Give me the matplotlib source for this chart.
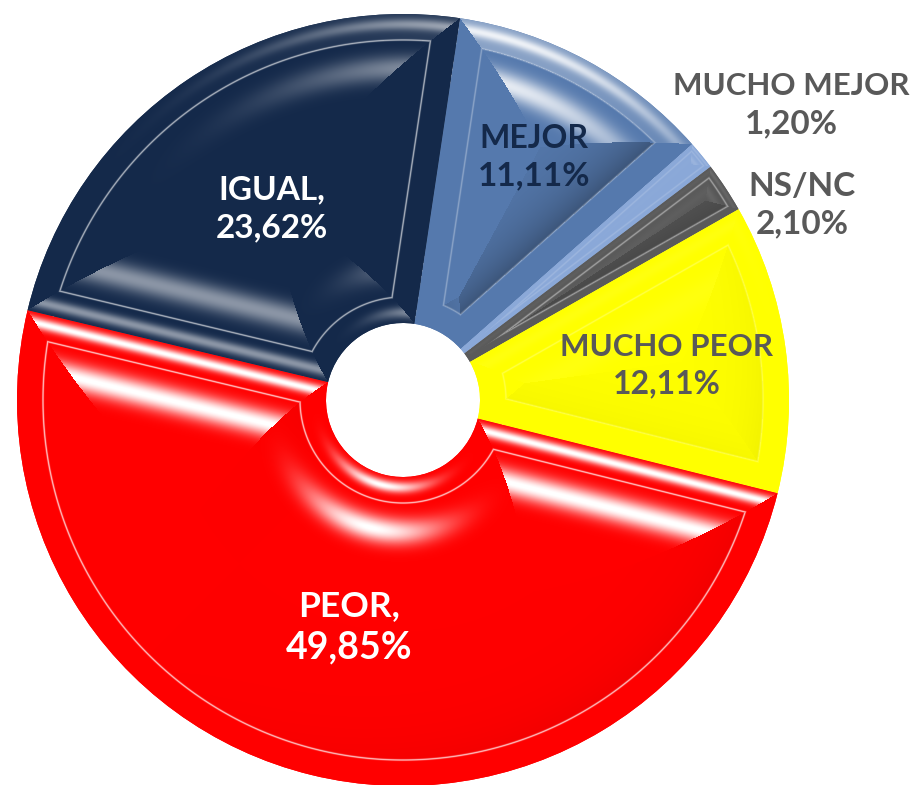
import numpy as np
import matplotlib
matplotlib.use("Agg")
import matplotlib.pyplot as plt

labels = ["MEJOR", "MUCHO MEJOR", "NS/NC", "MUCHO PEOR", "PEOR,", "IGUAL,"]
values = [11.11, 1.20, 2.10, 12.11, 49.85, 23.62]
value_text = ["11,11%", "1,20%", "2,10%", "12,11%", "49,85%", "23,62%"]

colors = ["#5579AD", "#8AA8D8", "#5A5A5A", "#FFFF00", "#FF0000", "#14294A"]
text_colors = ["#14294A", "#595959", "#595959", "#595959", "#FFFFFF", "#FFFFFF"]
text_xy = [(534, 157), (791, 105), (802, 205), (667, 365), (349, 627), (272, 209)]
label_size = [23, 22.5, 24, 22.5, 25.5, 24]
value_size = [24, 24, 24, 23, 27, 24]
insets = [26, 5, 8, 26, 26, 26]
glare = [0.85, 0.5, 0.45, 0.4, 1.0, 0.55]
under_glare = [0, 0, 0, 0, 0, 0.5]
dark_amt = [0.3, 0.0, 0.2, 0.06, 0.05, 0.0]
ring_light = [0.3, 0.0, 0.0, 0.0, 0.0, 0.1]
line_amt = [0.3, 0.15, 0.4, 0.25, 0.7, 0.6]

W, H = 916, 785
cx, cy, R, hole = 403, 400, 386, 77
cy_up = H - cy

plt.rcParams["font.family"] = ["Lato", "DejaVu Sans"]
fig = plt.figure(figsize=(W / 100, H / 100), dpi=100)
ax = fig.add_axes([0, 0, 1, 1])

wedges, _ = ax.pie(values, startangle=81.5, counterclock=False, colors=colors,
                   radius=R, center=(cx, cy_up),
                   wedgeprops=dict(width=R - hole, linewidth=0))

ax.set_xlim(0, W)
ax.set_ylim(0, H)
ax.set_aspect("equal")
ax.axis("off")

yy, xx = np.mgrid[0:H, 0:W] + 0.5
dx = xx - cx
dy = yy - cy_up
r = np.hypot(dx, dy)
t = np.degrees(np.arctan2(dy, dx))
cos_t = dx / np.maximum(r, 1)
sin_t = dy / np.maximum(r, 1)


def edge_dist(angle):
    return r * np.sin(np.radians(np.clip(angle, 0, 90)))


def shade(wedge, i):
    # fake bevel: distance to the nearest edge and the way that edge faces
    inset = insets[i]
    t1, t2 = wedge.theta1, wedge.theta2
    a1 = (t - t1) % 360
    a2 = (t2 - t) % 360
    dist = np.stack([R - r, r - hole, edge_dist(a1), edge_dist(a2)])
    s1, c1 = np.sin(np.radians(t1)), np.cos(np.radians(t1))
    s2, c2 = np.sin(np.radians(t2)), np.cos(np.radians(t2))
    nx = np.stack([cos_t, -cos_t, np.full_like(r, s1), np.full_like(r, -s2)])
    ny = np.stack([sin_t, -sin_t, np.full_like(r, -c1), np.full_like(r, c2)])
    near = dist.argmin(axis=0)
    rows, cols = np.arange(H)[:, None], np.arange(W)[None, :]
    d = dist[near, rows, cols]
    n_x = nx[near, rows, cols]
    n_y = ny[near, rows, cols]

    facing = np.maximum(0, n_x * 0.25 + n_y * 0.97) ** 6
    below = np.maximum(0, -n_x * 0.25 - n_y * 0.97) ** 6
    strips = (np.exp(-((d - 0.4 * inset) / (0.22 * inset)) ** 2)
              + np.exp(-((d - 2.1 * inset) / (0.5 * inset)) ** 2))

    base = np.array(matplotlib.colors.to_rgb(colors[i]))
    rgb = np.ones((H, W, 3)) * base
    dark = np.maximum(0, n_x * 0.7 - n_y * 0.7) * np.exp(-np.maximum(d - inset, 0) / 30.0)
    dark = np.where(d > inset, dark, 0.0)
    rgb = rgb * (1 - dark_amt[i] * dark[..., None])

    ring = np.where(d < inset, facing * ring_light[i], 0.0)[..., None]
    rgb = rgb * (1 - ring) + ring

    light = np.clip(strips * (facing * glare[i] + below * under_glare[i]), 0, 1)[..., None]
    rgb = rgb * (1 - light) + light

    line = np.exp(-((d - inset) / 0.9) ** 2)[..., None] * line_amt[i]
    rgb = rgb * (1 - line) + line

    im = ax.imshow(rgb, extent=(0, W, 0, H), origin="lower",
                   interpolation="bilinear", zorder=2)
    im.set_clip_path(wedge)


for i, w in enumerate(wedges):
    shade(w, i)

ax.set_xlim(0, W)
ax.set_ylim(0, H)

for i in range(len(labels)):
    x, y = text_xy[i]
    gap = 0.58 * value_size[i] + 5
    ax.text(x, H - y + gap, labels[i], color=text_colors[i], fontsize=label_size[i],
            fontweight="bold", ha="center", va="center", zorder=5)
    ax.text(x, H - y - gap, value_text[i], color=text_colors[i], fontsize=value_size[i],
            fontweight="bold", ha="center", va="center", zorder=5)

fig.savefig("out.png", dpi=100, facecolor="white")
